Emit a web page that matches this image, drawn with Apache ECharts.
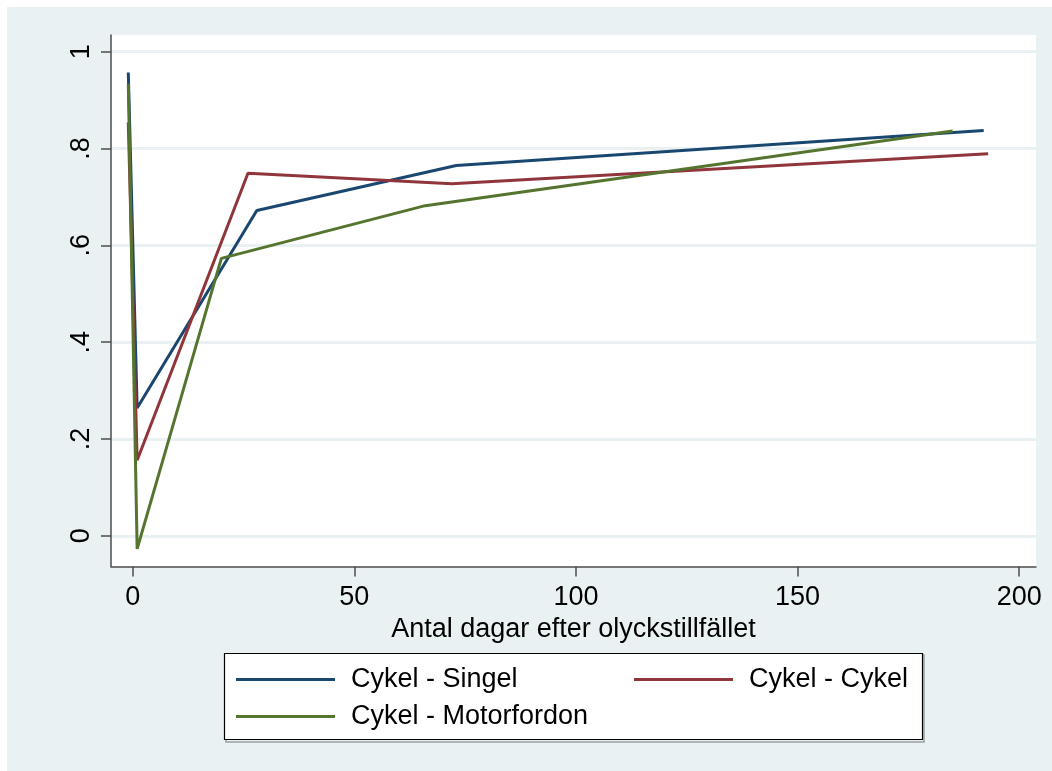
<!DOCTYPE html>
<html>
<head>
<meta charset="utf-8">
<script src="https://cdn.jsdelivr.net/npm/echarts@6/dist/echarts.min.js"></script>
<style>
html,body{margin:0;padding:0;background:#ffffff;}
#chart{width:1052px;height:771px;}
</style>
</head>
<body>
<div id="chart"></div>
<script>
// Data
const seriesNames = ['Cykel - Singel', 'Cykel - Cykel', 'Cykel - Motorfordon'];
const xSingel = [-1, 1, 28, 73, 192];
const ySingel = [0.957, 0.264, 0.672, 0.765, 0.837];
const xCykel = [-1, 1, 26, 72, 193];
const yCykel = [0.854, 0.156, 0.749, 0.727, 0.789];
const xMotor = [-1, 1, 20, 66, 185];
const yMotor = [0.934, -0.027, 0.573, 0.682, 0.836];
const xTicks = [0, 50, 100, 150, 200];
const yTicks = [0, 0.2, 0.4, 0.6, 0.8, 1];
const xTitle = 'Antal dagar efter olyckstillfället';

const colors = ['#1a476f', '#90353b', '#55752f'];
const bg = '#eaf1f3';
const FONT = '"Liberation Sans", Arial, sans-serif';

function pairs(xs, ys) { return xs.map((x, i) => [x, ys[i]]); }
function fmtY(v) {
  if (v === 0) return '0';
  if (v === 1) return '1';
  return String(+v.toFixed(1)).replace(/^0/, '');
}

const chart = echarts.init(document.getElementById('chart'), null, {renderer: 'canvas'});

const legendBase = {
  orient: 'horizontal',
  icon: 'rect',
  itemWidth: 99,
  itemHeight: 3,
  padding: 0,
  selectedMode: false,
  textStyle: {fontFamily: FONT, fontSize: 27, color: '#000', padding: [0, 0, 0, 11]}
};

chart.setOption({
  animation: false,
  backgroundColor: '#ffffff',
  color: colors,
  graphic: [
    {type: 'rect', z: -10, shape: {x: 7, y: 7, width: 1045, height: 764}, style: {fill: bg}, silent: true},
    {type: 'rect', z: 10, shape: {x: 226, y: 655, width: 698, height: 87}, style: {fill: 'none', stroke: '#9aa0a3', lineWidth: 1.5}, silent: true},
    {type: 'rect', z: 11, shape: {x: 224.5, y: 653.5, width: 698, height: 86}, style: {fill: '#ffffff', stroke: '#000', lineWidth: 1.2}, silent: true}
  ],
  grid: {
    left: 111, top: 35, right: 16, bottom: 771 - 566.5,
    show: true, backgroundColor: '#ffffff', borderWidth: 0, containLabel: false
  },
  xAxis: {
    type: 'value',
    min: -4.9, max: 203.8,
    name: xTitle,
    nameLocation: 'middle',
    nameGap: 46,
    nameTextStyle: {fontFamily: FONT, fontSize: 27, color: '#000'},
    axisLine: {show: true, onZero: false, lineStyle: {color: '#4d4d4d', width: 1.5}},
    axisTick: {show: true, length: 10, customValues: xTicks, lineStyle: {color: '#4d4d4d', width: 1.5}},
    axisLabel: {customValues: xTicks, margin: 18, fontFamily: FONT, fontSize: 27, color: '#000',
      showMinLabel: true, showMaxLabel: true},
    splitLine: {show: false}
  },
  yAxis: {
    type: 'value',
    min: -0.0634, max: 1.0345,
    axisLine: {show: true, onZero: false, lineStyle: {color: '#4d4d4d', width: 1.5}},
    axisTick: {show: true, length: 10, customValues: yTicks, lineStyle: {color: '#4d4d4d', width: 1.5}},
    axisLabel: {customValues: yTicks, rotate: 90, margin: 16, fontFamily: FONT, fontSize: 27, color: '#000',
      formatter: fmtY},
    splitLine: {show: true, lineStyle: {color: bg, width: 3}}
  },
  legend: [
    Object.assign({}, legendBase, {data: [seriesNames[0]], left: 236, top: 666}),
    Object.assign({}, legendBase, {data: [seriesNames[1]], left: 634, top: 666}),
    Object.assign({}, legendBase, {data: [seriesNames[2]], left: 236, top: 703})
  ].map(l => Object.assign(l, {z: 20})),
  series: [
    {name: seriesNames[0], type: 'line', data: pairs(xSingel, ySingel), symbol: 'none', lineStyle: {width: 3, color: colors[0]}, itemStyle: {color: colors[0]}, z: 3},
    {name: seriesNames[1], type: 'line', data: pairs(xCykel, yCykel), symbol: 'none', lineStyle: {width: 3, color: colors[1]}, itemStyle: {color: colors[1]}, z: 4},
    {name: seriesNames[2], type: 'line', data: pairs(xMotor, yMotor), symbol: 'none', lineStyle: {width: 3, color: colors[2]}, itemStyle: {color: colors[2]}, z: 5}
  ]
});
</script>
</body>
</html>
